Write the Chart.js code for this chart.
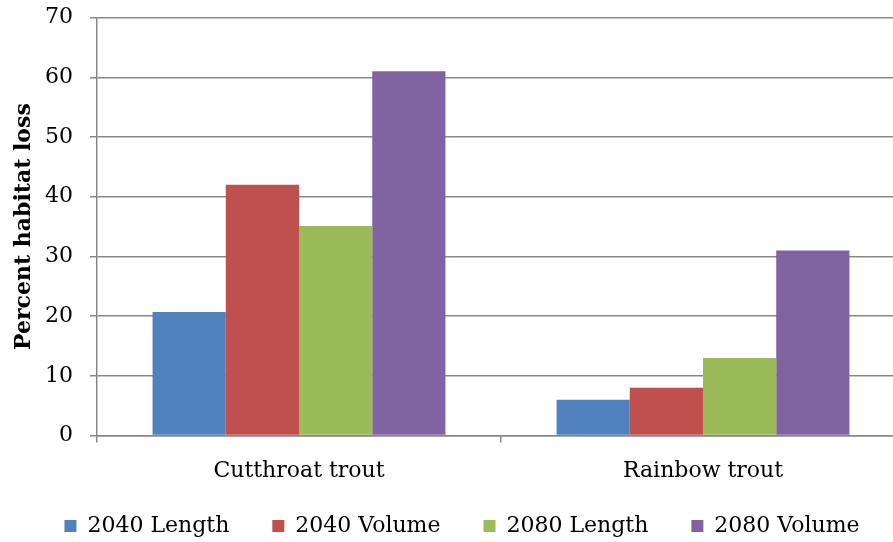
<!DOCTYPE html>
<html>
<head>
<meta charset="utf-8">
<script src="https://cdn.jsdelivr.net/npm/chart.js@4/dist/chart.umd.min.js"></script>
<style>
  html, body { margin: 0; padding: 0; background: #fff; }
  #wrap { width: 893px; height: 542px; overflow: hidden; position: relative; }
  #box { width: 905px; height: 547px; }
</style>
</head>
<body>
<div id="wrap"><div id="box"><canvas id="myCanvas"></canvas></div></div>
<script>
// chart data
var categories = ['Cutthroat trout', 'Rainbow trout'];
var seriesNames = ['2040 Length', '2040 Volume', '2080 Length', '2080 Volume'];
var length2040 = [20.7, 6];
var volume2040 = [42, 8];
var length2080 = [35.1, 13];
var volume2080 = [61, 31];
var yTicks = [0, 10, 20, 30, 40, 50, 60, 70];

var colours = ['#4F81BD', '#C0504D', '#9BBB59', '#8064A2'];
var allValues = [length2040, volume2040, length2080, volume2080];

var fontFamily = '"DejaVu Serif", "Liberation Serif", serif';
var gridGrey = '#878787';

// the legend needs wide gaps between items but little room above them,
// so shrink its box and draw it from a higher top edge
var legendLift = 27;
var legendNudge = {
	id: 'legendNudge',
	afterInit: function(chart) {
		var lg = chart.legend;
		var fit = lg.fit;
		var draw = lg.draw;
		lg.fit = function() {
			fit.call(this);
			this.height -= legendLift;
		};
		lg.draw = function() {
			var t = this.top;
			this.top = t - legendLift;
			draw.call(this);
			this.top = t;
		};
	}
};

var datasets = [];
for (var i = 0; i < seriesNames.length; i++) {
	datasets.push({
		label: seriesNames[i],
		data: allValues[i],
		backgroundColor: colours[i],
		borderWidth: 0,
		barPercentage: 1,
		categoryPercentage: 0.725
	});
}

var ctx = document.getElementById('myCanvas').getContext('2d');
var myChart = new Chart(ctx, {
	type: 'bar',
	data: {
		labels: categories,
		datasets: datasets
	},
	plugins: [legendNudge],
	options: {
		responsive: true,
		maintainAspectRatio: false,
		animation: false,
		layout: { padding: { left: 19, top: 0, right: 0, bottom: 0 } },
		plugins: {
			legend: {
				position: 'bottom',
				labels: {
					boxWidth: 12,
					boxHeight: 12,
					padding: 43,
					color: '#000',
					font: { family: fontFamily, size: 22 }
				}
			},
			tooltip: { enabled: false }
		},
		scales: {
			x: {
				grid: {
					offset: true,
					drawOnChartArea: false,
					drawTicks: true,
					tickLength: 7,
					color: gridGrey,
					lineWidth: 1.5
				},
				border: { color: gridGrey, width: 1.5 },
				ticks: {
					color: '#000',
					padding: 15,
					font: { family: fontFamily, size: 22 }
				}
			},
			y: {
				min: 0,
				max: 70,
				afterBuildTicks: function(axis) {
					axis.ticks = yTicks.map(function(v) { return { value: v }; });
				},
				afterFit: function(axis) {
					axis.width = 78;
				},
				grid: {
					color: gridGrey,
					lineWidth: 1.5,
					drawTicks: true,
					tickLength: 7
				},
				border: { color: gridGrey, width: 1.5 },
				ticks: {
					color: '#000',
					padding: 17,
					font: { family: fontFamily, size: 22, lineHeight: 0.05 }
				},
				title: {
					display: true,
					text: 'Percent habitat loss',
					color: '#000',
					padding: { top: 0, bottom: 0 },
					font: { family: fontFamily, size: 22, weight: 'bold', lineHeight: 0.5 }
				}
			}
		}
	}
});
</script>
</body>
</html>
